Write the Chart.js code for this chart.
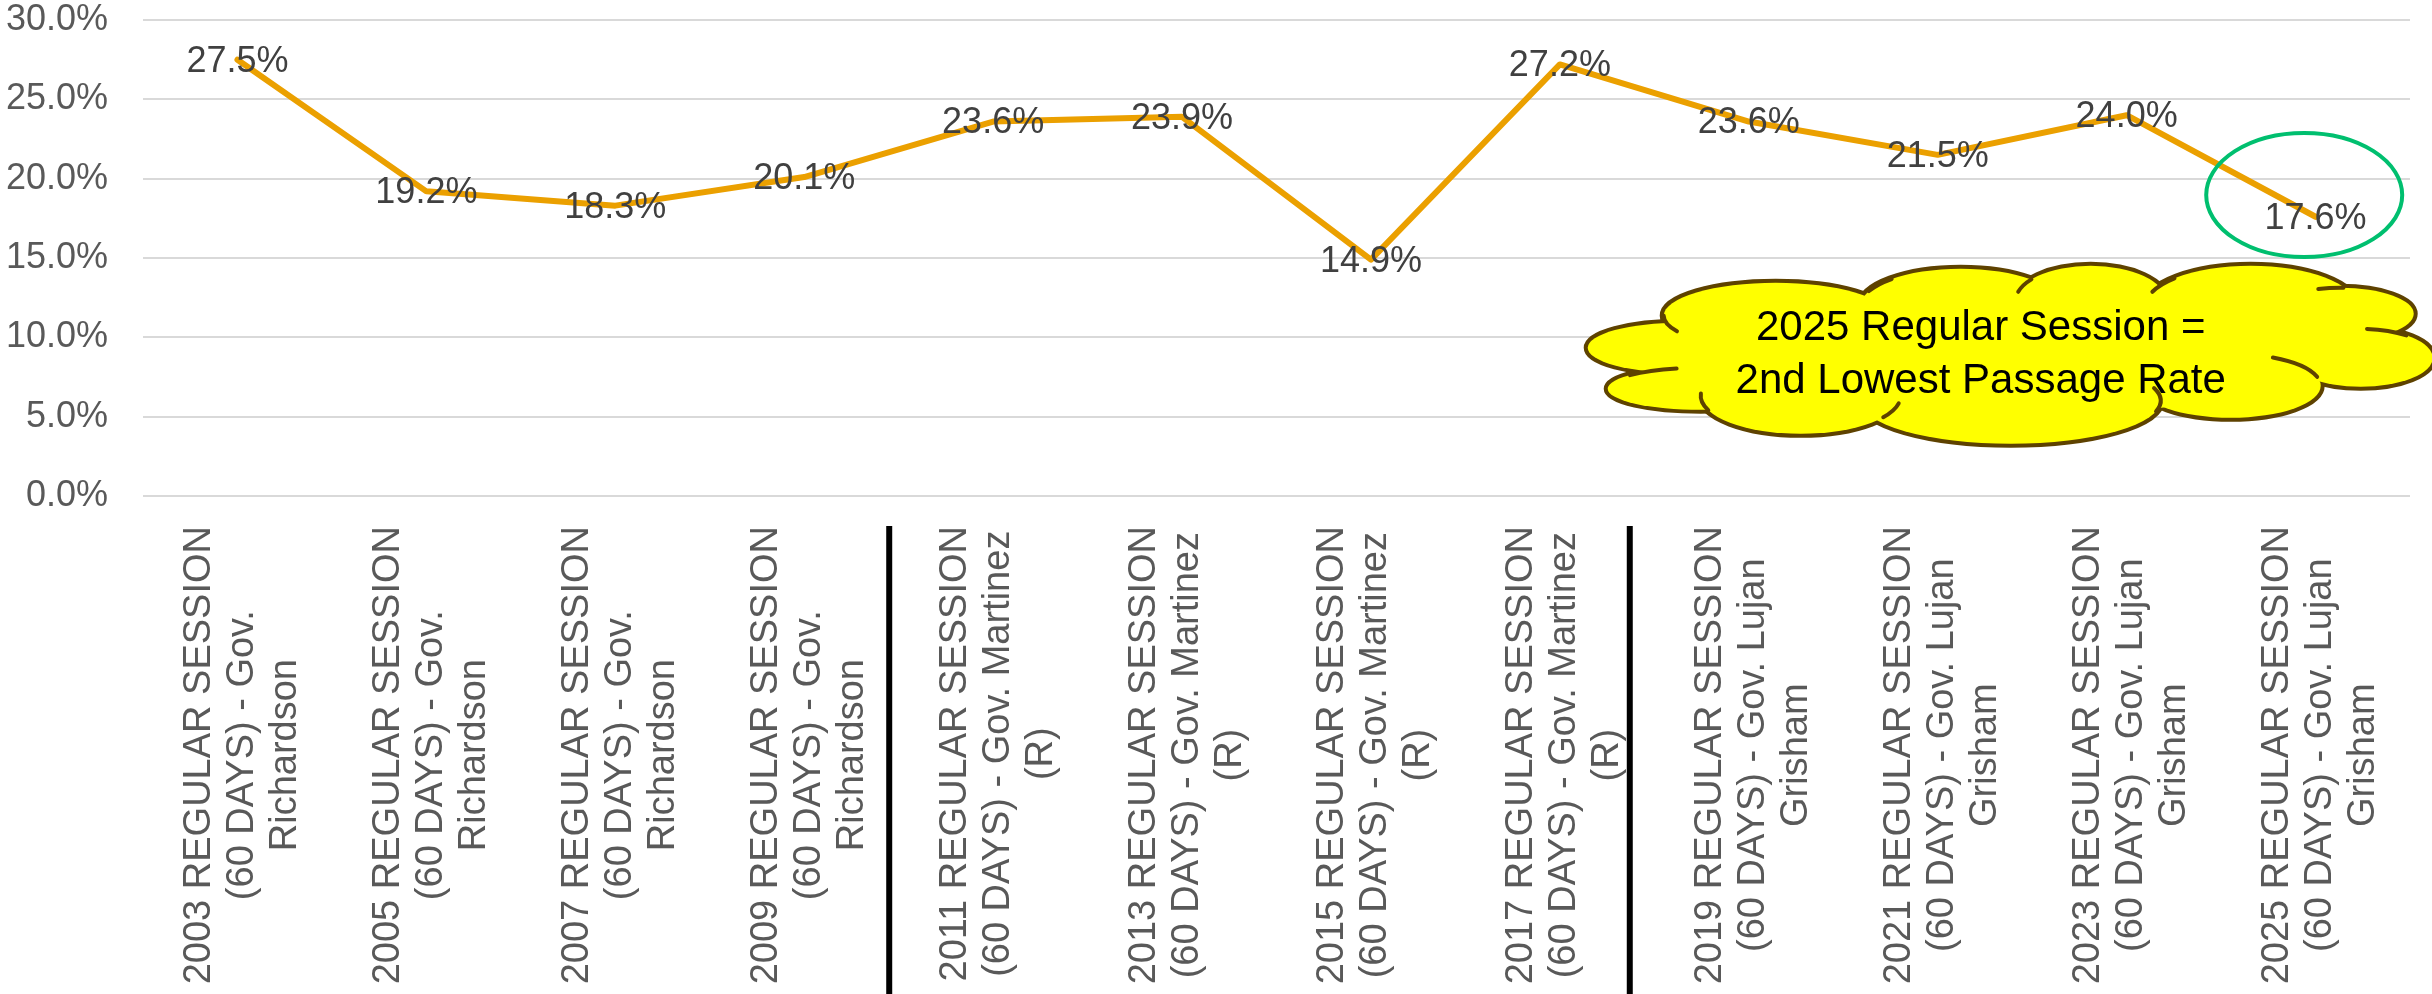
<!DOCTYPE html>
<html>
<head>
<meta charset="utf-8">
<script src="https://cdn.jsdelivr.net/npm/chart.js@4/dist/chart.umd.min.js"></script>
<style>
  html, body { margin: 0; padding: 0; background: #ffffff; }
  canvas { display: block; }
</style>
</head>
<body>
<canvas id="c" width="2432" height="994"></canvas>
<script>
// ---- data ----
const categories = [
  ["2003 REGULAR SESSION", "(60 DAYS) - Gov.", "Richardson"],
  ["2005 REGULAR SESSION", "(60 DAYS) - Gov.", "Richardson"],
  ["2007 REGULAR SESSION", "(60 DAYS) - Gov.", "Richardson"],
  ["2009 REGULAR SESSION", "(60 DAYS) - Gov.", "Richardson"],
  ["2011 REGULAR SESSION", "(60 DAYS) - Gov. Martinez", "(R)"],
  ["2013 REGULAR SESSION", "(60 DAYS) - Gov. Martinez", "(R)"],
  ["2015 REGULAR SESSION", "(60 DAYS) - Gov. Martinez", "(R)"],
  ["2017 REGULAR SESSION", "(60 DAYS) - Gov. Martinez", "(R)"],
  ["2019 REGULAR SESSION", "(60 DAYS) - Gov. Lujan", "Grisham"],
  ["2021 REGULAR SESSION", "(60 DAYS) - Gov. Lujan", "Grisham"],
  ["2023 REGULAR SESSION", "(60 DAYS) - Gov. Lujan", "Grisham"],
  ["2025 REGULAR SESSION", "(60 DAYS) - Gov. Lujan", "Grisham"]
];
const passageRate = [27.5, 19.2, 18.3, 20.1, 23.6, 23.9, 14.9, 27.2, 23.6, 21.5, 24.0, 17.6];
const yTickMin = 0;
const yTickMax = 30;
const yTickStep = 5;
const calloutLines = ["2025 Regular Session =", "2nd Lowest Passage Rate"];
// governor-term separators placed between categories (category index units)
const separatorsAt = [3.45, 7.37];

const FONT = "'Liberation Sans', Arial, Helvetica, sans-serif";

// ---- plugins ----
const xLabelPlugin = {
  id: 'xLabels',
  afterDraw(chart) {
    const ctx = chart.ctx;
    const xs = chart.scales.x;
    const area = chart.chartArea;
    const pitch = 43;
    ctx.save();
    ctx.font = "38px " + FONT;
    ctx.fillStyle = '#595959';
    ctx.textAlign = 'center';
    ctx.textBaseline = 'middle';
    const top = area.bottom + 30;
    categories.forEach((lines, i) => {
      const maxLen = Math.max(...lines.map(l => ctx.measureText(l).width));
      const px = xs.getPixelForValue(i) + 3;
      ctx.save();
      ctx.translate(px, top + maxLen / 2);
      ctx.rotate(-Math.PI / 2);
      lines.forEach((line, j) => {
        ctx.fillText(line, 0, (j - (lines.length - 1) / 2) * pitch + 2);
      });
      ctx.restore();
    });
    // separators
    ctx.strokeStyle = '#000000';
    ctx.lineWidth = 6;
    separatorsAt.forEach(v => {
      const sx = xs.getPixelForValue(v);
      ctx.beginPath();
      ctx.moveTo(sx, area.bottom + 30);
      ctx.lineTo(sx, chart.height);
      ctx.stroke();
    });
    ctx.restore();
  }
};

const dataLabelPlugin = {
  id: 'dataLabels',
  afterDatasetsDraw(chart) {
    const ctx = chart.ctx;
    const meta = chart.getDatasetMeta(0);
    ctx.save();
    ctx.font = "36px " + FONT;
    ctx.fillStyle = '#404040';
    ctx.textAlign = 'center';
    ctx.textBaseline = 'middle';
    meta.data.forEach((pt, i) => {
      ctx.fillText(passageRate[i].toFixed(1) + '%', pt.x, pt.y + 2);
    });
    ctx.restore();
  }
};

const annotationPlugin = {
  id: 'annotations',
  afterDraw(chart) {
    const ctx = chart.ctx;
    const xs = chart.scales.x, ys = chart.scales.y;
    // green ellipse around the last point
    const ex = xs.getPixelForValue(10.94), ey = ys.getPixelForValue(18.97);
    ctx.save();
    ctx.strokeStyle = '#00BF6F';
    ctx.lineWidth = 4;
    ctx.beginPath();
    ctx.ellipse(ex, ey, 98, 62, 0, 0, Math.PI * 2);
    ctx.stroke();

    // cloud callout
    const cx = xs.getPixelForValue(9.36), cy = ys.getPixelForValue(8.9);
    const lobes = [
      [-325, -7, 93, 25],
      [-305, 34, 93, 21],
      [-230, -39, 112, 33],
      [-45, -49, 100, 37],
      [85, -54, 75, 35],
      [245, -49, 105, 40],
      [335, -41, 73, 26],
      [355, 3, 72, 29],
      [225, 31, 90, 32],
      [5, 46, 150, 43],
      [-205, 41, 100, 38]
    ];
    const core = [0, 0, 330, 60];
    // short inner arcs (lobe index, start angle, end angle)
    const hooks = [
      [2, 2.65, 3.14],
      [1, 3.85, 4.45],
      [10, 2.75, 3.2],
      [3, 3.55, 3.95],
      [4, 3.4, 3.8],
      [5, 3.5, 3.9],
      [6, 4.4, 4.75],
      [7, 4.8, 5.4],
      [8, 5.2, 6.0],
      [9, -0.3, 0.25],
      [10, 0.2, 0.6]
    ];
    const path = (l) => { ctx.beginPath(); ctx.ellipse(cx + l[0], cy + l[1], l[2], l[3], 0, 0, Math.PI * 2); };
    ctx.strokeStyle = '#5E4200';
    ctx.lineWidth = 8;
    lobes.forEach(l => { path(l); ctx.stroke(); });
    ctx.fillStyle = '#FFFF00';
    lobes.forEach(l => { path(l); ctx.fill(); });
    path(core); ctx.fill();
    ctx.lineWidth = 4;
    ctx.lineCap = 'round';
    hooks.forEach(h => {
      const l = lobes[h[0]];
      ctx.beginPath();
      ctx.ellipse(cx + l[0], cy + l[1], l[2], l[3], 0, h[1], h[2]);
      ctx.stroke();
    });

    ctx.fillStyle = '#000000';
    ctx.font = "42px " + FONT;
    ctx.textAlign = 'center';
    ctx.textBaseline = 'alphabetic';
    ctx.fillText(calloutLines[0], cx - 25, cy - 15);
    ctx.fillText(calloutLines[1], cx - 25, cy + 38);
    ctx.restore();
  }
};

new Chart(document.getElementById('c'), {
  type: 'line',
  data: {
    labels: categories,
    datasets: [{
      data: passageRate,
      borderColor: '#EBA000',
      borderWidth: 6,
      pointRadius: 0,
      pointHoverRadius: 0,
      tension: 0,
      fill: false,
      borderJoinStyle: 'round',
      borderCapStyle: 'round'
    }]
  },
  options: {
    responsive: false,
    animation: false,
    events: [],
    layout: { padding: { top: 20, right: 22, left: 0, bottom: 0 } },
    plugins: {
      legend: { display: false },
      tooltip: { enabled: false },
      title: { display: false }
    },
    scales: {
      x: {
        type: 'category',
        offset: true,
        grid: { display: false },
        border: { display: false },
        ticks: { display: false },
        afterFit(scale) { scale.height = 498; scale.paddingLeft = 0; scale.paddingRight = 0; }
      },
      y: {
        min: yTickMin,
        max: yTickMax,
        grid: { color: '#D9D9D9', lineWidth: 2, drawTicks: false },
        border: { display: false },
        ticks: {
          stepSize: yTickStep,
          padding: 35,
          color: '#595959',
          font: { family: FONT, size: 36 },
          callback: (v) => v.toFixed(1) + '%'
        },
        afterFit(scale) { scale.width = 143; scale.paddingTop = 0; scale.paddingBottom = 0; }
      }
    }
  },
  plugins: [dataLabelPlugin, xLabelPlugin, annotationPlugin]
});
</script>
</body>
</html>
